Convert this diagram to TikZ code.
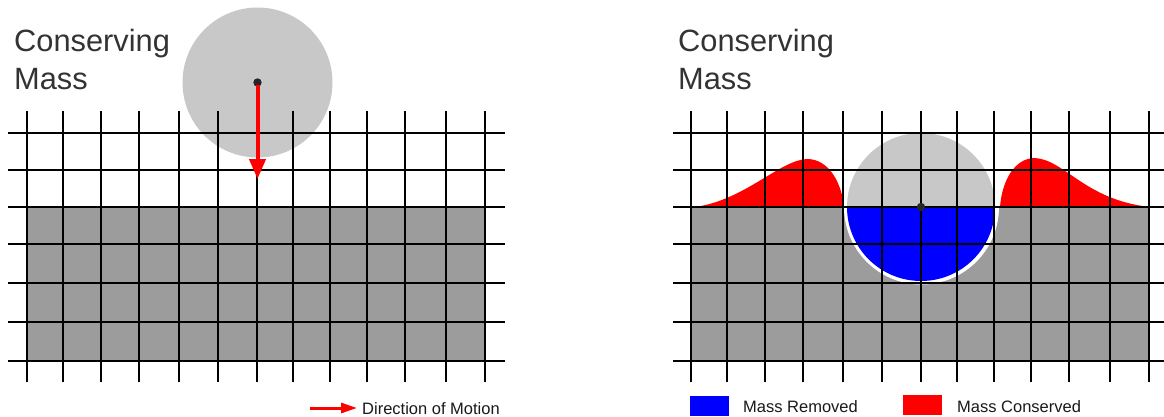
\documentclass[tikz,border=0pt]{standalone}
\usepackage{fontspec}
\setmainfont{Liberation Sans}
\usetikzlibrary{arrows.meta}
\definecolor{groundc}{HTML}{9C9C9C}
\definecolor{ballc}{HTML}{C8C8C8}
\definecolor{ttlc}{HTML}{333333}
\definecolor{dotc}{HTML}{262626}
\definecolor{redc}{HTML}{FF0000}
\definecolor{bluec}{HTML}{0000FF}
\begin{document}
\begin{tikzpicture}[x=1pt,y=-1pt,
  gridline/.style={line width=2.2pt, black},
  ttl/.style={anchor=base west, inner sep=0pt, text=ttlc, font=\fontsize{30.8}{36}\selectfont},
  legtext/.style={anchor=base west, inner sep=0pt, text=black!90, font=\fontsize{16.5}{20}\selectfont},
  ballnode/.style={circle, fill=ballc, inner sep=0pt, minimum size=#1},
  motion/.style={line width=4pt, redc, -{Triangle[width=16pt,length=20pt]}},
  legarrow/.style={line width=3pt, redc, -{Triangle[width=10pt,length=16pt]}},
  swatch/.style={inner sep=0pt, minimum width=39pt, minimum height=20pt}
]
\useasboundingbox (0,0) rectangle (1164,417);

% ---------------- Left panel ----------------
\fill[groundc] (27,207) rectangle (485,362);
\node[ballnode=150pt] (ballL) at (257.5,82.5) {};
\foreach \x in {27,63,101,139,179,218,257,293,330,367,405,446,485} {
  \draw[gridline] (\x,111) -- (\x,382);
}
\foreach \y in {133,170,207,244,283,322,361} {
  \draw[gridline] (8,\y) -- (505,\y);
}
\fill[dotc] (ballL.center) circle (4.2);
\coordinate (tipL) at (257.5,179);
\draw[motion, shorten <=3pt] (ballL.center) -- (tipL);

\node[ttl] (t1a) at (14,52) {Conserving};
\node[ttl] (t1b) at (14,90) {Mass};

\coordinate (legA) at (310,408);
\coordinate (legB) at (357,408);
\draw[legarrow] (legA) -- (legB);
\node[legtext] (legmotion) at (362,414) {Direction of Motion};

% ---------------- Right panel ----------------
\node[ballnode=148pt] (ballR) at (921,207) {};
\fill[groundc] (691,207) rectangle (1149,362);
\fill[white] (844,207) arc[start angle=180, end angle=0, radius=77.5] -- cycle;
\fill[bluec] (847,207) arc[start angle=180, end angle=0, radius=74] -- cycle;
\fill[redc] (695,207) .. controls (745,200) and (780,160) .. (807,159)
  .. controls (830,159) and (842,185) .. (844,207) -- cycle;
\fill[redc] (1000,207) .. controls (1002,180) and (1015,158) .. (1035,158)
  .. controls (1065,160) and (1085,200) .. (1150,207) -- cycle;
\foreach \x in {691,727,765,803,843,882,921,957,994,1031,1069,1110,1149} {
  \draw[gridline] (\x,111) -- (\x,382);
}
\foreach \y in {133,170,207,244,283,322,361} {
  \draw[gridline] (673,\y) -- (1164,\y);
}
\fill[dotc] (ballR.center) circle (4.2);

\node[ttl] (t2a) at (678,52) {Conserving};
\node[ttl] (t2b) at (678,90) {Mass};

\node[swatch, fill=bluec, anchor=north west] (swblue) at (690,396) {};
\node[legtext] (legremoved) at (743,412) {Mass Removed};
\node[swatch, fill=redc, anchor=north west] (swred) at (903,395) {};
\node[legtext] (legconserved) at (957,412) {Mass Conserved};
\end{tikzpicture}
\end{document}
